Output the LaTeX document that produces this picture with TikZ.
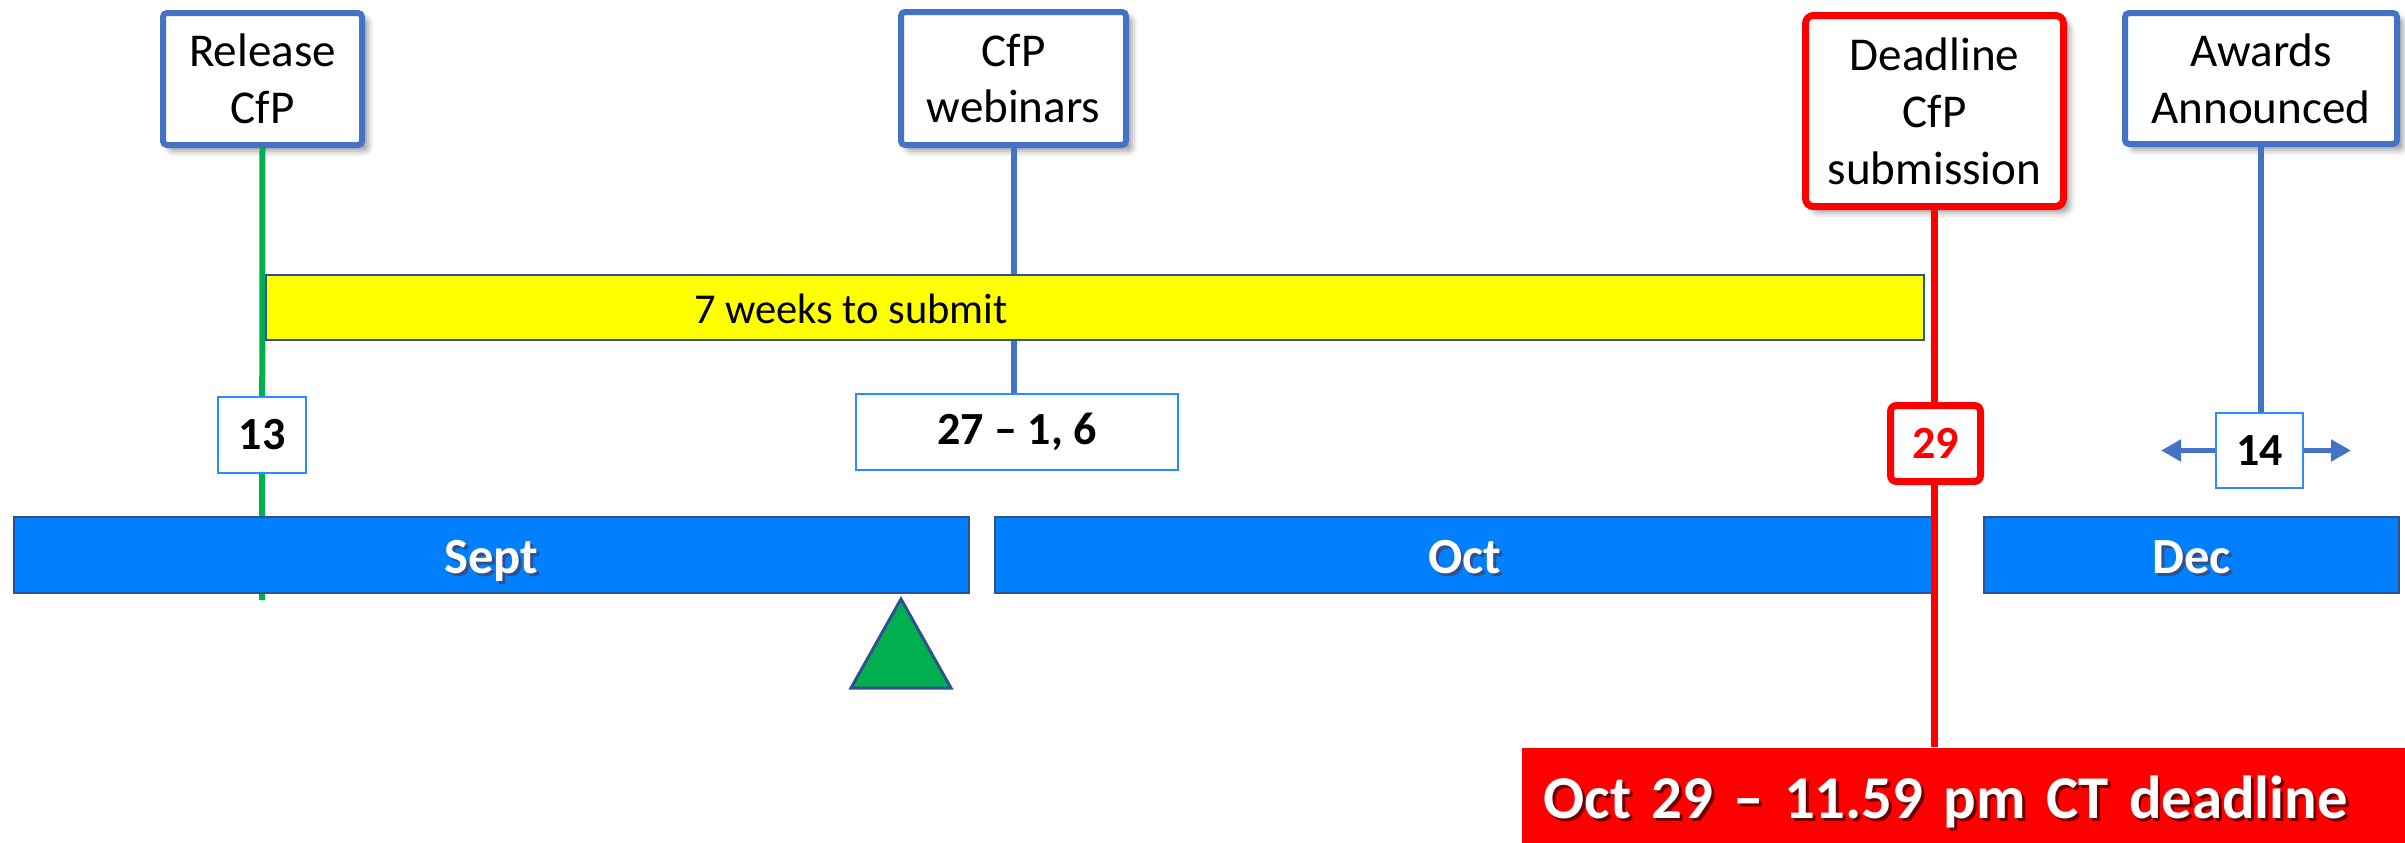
\documentclass[tikz,border=0pt]{standalone}
\usepackage{fontspec}
\setmainfont{Carlito}
\usetikzlibrary{shadows.blur,arrows.meta}
\definecolor{boxblue}{HTML}{4472C4}
\definecolor{barblue}{HTML}{0080FF}
\definecolor{barline}{HTML}{2F528F}
\definecolor{datebl}{HTML}{2A8CFF}
\definecolor{grn}{HTML}{00B050}
\definecolor{rd}{HTML}{FF0000}
\definecolor{ylw}{HTML}{FFFF00}
\newcommand\shtext[2]{\leavevmode\rlap{\hspace{0.3mm}\raisebox{-0.3mm}{\textcolor{#1}{#2}}}#2}
\tikzset{
  topbox/.style={draw=boxblue, line width=0.6mm, fill=white, align=center, inner sep=0pt,
    rounded corners=0.4mm, font=\fontsize{13.4}{16.2}\selectfont,
    blur shadow={shadow xshift=0.6mm, shadow yshift=-0.6mm, shadow blur radius=0.6mm, shadow opacity=40}},
  datebox/.style={draw=datebl, line width=0.2mm, fill=white, inner sep=0pt,
    font=\fontsize{13.1}{15}\selectfont\bfseries},
  monthbar/.style={draw=barline, line width=0.2mm, fill=barblue, inner sep=0pt, text=white,
    minimum height=7.6mm, text height=3.6mm, text depth=0pt, font=\fontsize{14.4}{17}\selectfont\bfseries},
  stem/.style={line width=0.6mm},
  sidearrow/.style={draw=boxblue, line width=0.5mm, -{Triangle[width=2.1mm,length=2mm]}}
}
\begin{document}
\begin{tikzpicture}[x=0.1mm, y=-0.1mm]
\useasboundingbox (0,0) rectangle (2405,842);

% top boxes
\node[topbox, minimum width=19.9mm, minimum height=13.2mm] (rel) at (262.5,79) {Release\\CfP};
\node[topbox, minimum width=22.5mm, minimum height=13.3mm] (web) at (1013.5,78.5) {CfP\\webinars};
\node[topbox, minimum width=27.2mm, minimum height=13.1mm] (aw) at (2261,78.5) {Awards\\Announced};

% date box positions
\coordinate (d13) at (262,435);
\coordinate (d27) at (1017,432);
\coordinate (d14) at (2259.5,450.5);
\coordinate (gend) at (262,600);

% stems behind boxes and bars
\draw[stem, grn] (rel.south) -- (gend);
\draw[stem, boxblue] (web.south) -- (web.south |- d27);

% date boxes
\node[datebox, minimum width=8.8mm, minimum height=7.6mm] (b13) at (d13) {13};
\node[datebox, minimum width=32.2mm, minimum height=7.6mm] (b27) at (d27) {27 -- 1, 6};
\node[datebox, minimum width=8.7mm, minimum height=7.5mm] (b14) at (d14) {14};

\coordinate (aL) at (2161,450.5);
\coordinate (aR) at (2351,450.5);
\draw[stem, boxblue] (aw.south) -- (aw.south |- b14.north);
\draw[sidearrow] (b14.west) -- (aL);
\draw[sidearrow] (b14.east) -- (aR);

% yellow bar
\node[draw=barline, line width=0.2mm, fill=ylw, minimum width=165.8mm, minimum height=6.5mm, inner sep=0pt] (yb) at (1095,307.5) {};
\node[font=\fontsize{12.1}{14}\selectfont, inner sep=0pt] (yt) at (851,309) {7 weeks to submit};

% month bars
\node[monthbar, minimum width=95.5mm] (sept) at (491.5,555) {\shtext{barline}{Sept}};
\node[monthbar, minimum width=93.9mm] (oct) at (1464.5,555) {\shtext{barline}{Oct}};
\node[monthbar, minimum width=41.5mm] (dec) at (2191.5,555) {\shtext{barline}{Dec}};

% triangle marker
\draw[fill=grn, draw=barline, line width=0.3mm] (901,599) -- (851,688) -- (951,688) -- cycle;

% bottom deadline banner
\node[fill=rd, anchor=north west, minimum width=88.4mm, minimum height=9.5mm, inner ysep=0pt,
  inner xsep=2.2mm, text width=84mm, align=left, text height=5mm, text depth=0.3mm, text=white,
  font=\fontsize{17.3}{21}\selectfont\bfseries] (bot) at (1521,747) {\shtext{rd!45!black}{Oct 29 -- 11.59 pm CT deadline}};

% deadline box and red line
\node[topbox, draw=rd, line width=0.7mm, rounded corners=0.8mm, minimum width=25.8mm, minimum height=19.1mm] (dl) at (1934.5,111) {Deadline\\CfP\\submission};
\draw[stem, rd, line width=0.65mm] (dl.south) -- (dl.south |- bot.north);
\node[draw=rd, line width=0.7mm, fill=white, rounded corners=0.6mm, inner sep=0pt, text=rd,
  minimum width=9.0mm, minimum height=7.6mm, font=\fontsize{13.1}{15}\selectfont\bfseries] (d29) at (1935.5,443.5) {29};
\end{tikzpicture}
\end{document}
